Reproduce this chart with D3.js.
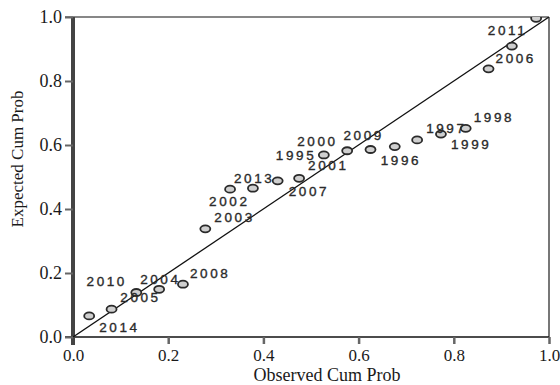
<!DOCTYPE html>
<html>
<head>
<meta charset="utf-8">
<script src="https://cdn.jsdelivr.net/npm/d3@7"></script>
<style>
  body { margin: 0; background: #fff; }
  svg { display: block; }
</style>
</head>
<body>
<div id="chart"></div>
<script>
// P-P plot data
const years    = [2014, 2010, 2005, 2004, 2008, 2003, 2002, 2013, 2007, 2001,
                  1995, 2000, 2009, 1996, 1997, 1999, 1998, 2006, 2011, 2012];
const observed = [0.034, 0.081, 0.133, 0.181, 0.231, 0.278, 0.330, 0.378, 0.430, 0.475,
                  0.527, 0.576, 0.625, 0.676, 0.723, 0.773, 0.825, 0.873, 0.922, 0.973];
const expected = [0.066, 0.087, 0.139, 0.149, 0.165, 0.338, 0.462, 0.465, 0.488, 0.496,
                  0.569, 0.582, 0.586, 0.595, 0.616, 0.634, 0.652, 0.838, 0.909, 0.996];
const ticks = [0, 0.2, 0.4, 0.6, 0.8, 1.0];

// label offsets (px) from each point to where its year text starts (null = not shown)
const labelDx = [10, -25, -16, -19, 7, 9, -21, -19, 11, 9, -48, -50, -27, -14, 9, 10, 8, 7, -24, null];
const labelDy = [16, -23, 9, -5, -6, -7, 17, -5, 15, -8, 5, -5, -9, 18, -7, 15, -6, -6, -11, null];

const width = 560, height = 385;
const pLeft = 73, pRight = 549, pTop = 17, pBottom = 337;

const svg = d3.select("#chart").append("svg")
    .attr("width", width)
    .attr("height", height);

const x = d3.scaleLinear().domain([0, 1]).range([pLeft, pRight]);
const y = d3.scaleLinear().domain([0, 1]).range([pBottom, pTop]);

// clip for marks
svg.append("clipPath").attr("id", "plot")
  .append("rect")
    .attr("x", pLeft).attr("y", pTop)
    .attr("width", pRight - pLeft).attr("height", pBottom - pTop);

// frame: top and right
svg.append("line")
    .attr("x1", pLeft - 8).attr("x2", pRight)
    .attr("y1", pTop).attr("y2", pTop)
    .attr("stroke", "#111").attr("stroke-width", 1.2);
svg.append("line")
    .attr("x1", pRight).attr("x2", pRight)
    .attr("y1", pTop).attr("y2", pBottom)
    .attr("stroke", "#777").attr("stroke-width", 2);

// x axis
const xAxis = svg.append("g")
    .attr("transform", "translate(0," + pBottom + ")")
    .call(d3.axisBottom(x).tickValues(ticks).tickFormat(d3.format(".1f"))
      .tickSize(7).tickSizeOuter(0));
xAxis.select(".domain").attr("stroke", "#111").attr("stroke-width", 1.5)
    .attr("d", "M" + (pLeft - 8) + ",0H" + pRight);
xAxis.selectAll(".tick line").attr("stroke", "#666").attr("stroke-width", 2.5);
xAxis.selectAll(".tick text")
    .attr("y", 12)
    .attr("dy", "0.71em")
    .attr("fill", "#1a1a1a")
    .style("font-family", "'Liberation Serif', 'Times New Roman', serif")
    .style("font-size", "17px");

// y axis
const yAxis = svg.append("g")
    .attr("transform", "translate(" + pLeft + ",0)")
    .call(d3.axisLeft(y).tickValues(ticks).tickFormat(d3.format(".1f"))
      .tickSize(8).tickSizeOuter(0));
yAxis.select(".domain").attr("stroke", "#444").attr("stroke-width", 4)
    .attr("d", "M0," + pTop + "V" + (pBottom + 8));
yAxis.selectAll(".tick line").attr("stroke", "#666").attr("stroke-width", 2);
yAxis.selectAll(".tick text")
    .attr("x", -11)
    .attr("fill", "#1a1a1a")
    .style("font-family", "'Liberation Serif', 'Times New Roman', serif")
    .style("font-size", "18px");

// axis titles
svg.append("text")
    .attr("x", 327).attr("y", 381)
    .attr("text-anchor", "middle")
    .attr("fill", "#1a1a1a")
    .style("font-family", "'Liberation Serif', 'Times New Roman', serif")
    .style("font-size", "18px")
    .text("Observed Cum Prob");

svg.append("text")
    .attr("transform", "translate(23,159) rotate(-90)")
    .attr("text-anchor", "middle")
    .attr("fill", "#1a1a1a")
    .style("font-family", "'Liberation Serif', 'Times New Roman', serif")
    .style("font-size", "17px")
    .text("Expected Cum Prob");

const g = svg.append("g").attr("clip-path", "url(#plot)");

// reference diagonal
g.append("line")
    .attr("x1", x(0)).attr("y1", y(0))
    .attr("x2", x(1)).attr("y2", y(1))
    .attr("stroke", "#111").attr("stroke-width", 1.3);

const idx = d3.range(years.length);

// points
g.selectAll("ellipse")
  .data(idx)
  .join("ellipse")
    .attr("cx", i => x(observed[i]))
    .attr("cy", i => y(expected[i]))
    .attr("rx", 5)
    .attr("ry", 3.5)
    .attr("fill", "#cfcfcf")
    .attr("stroke", "#2a2a2a")
    .attr("stroke-width", 1.8);

// year labels
g.selectAll("text.year")
  .data(idx.filter(i => labelDx[i] !== null))
  .join("text")
    .attr("class", "year")
    .attr("x", i => x(observed[i]) + labelDx[i])
    .attr("y", i => y(expected[i]) + labelDy[i])
    .attr("fill", "#2a2a2a")
    .attr("stroke", "#2a2a2a")
    .attr("stroke-width", 0.35)
    .style("font-family", "'Liberation Sans', Arial, sans-serif")
    .style("font-size", "13.5px")
    .style("letter-spacing", "2.6px")
    .text(i => years[i]);
</script>
</body>
</html>
